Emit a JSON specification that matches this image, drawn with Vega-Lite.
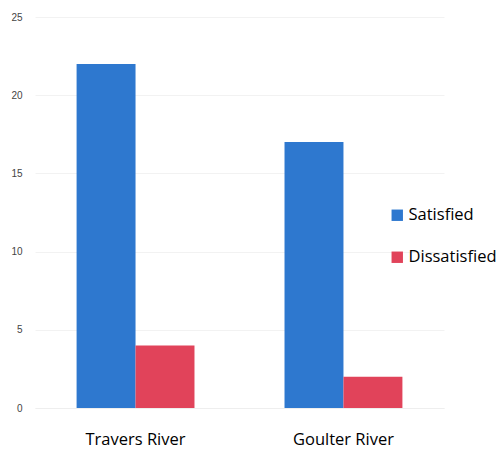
{
  "$schema": "https://vega.github.io/schema/vega-lite/v6.json",
  "autosize": {"type": "none"},
  "padding": {"left": 35, "top": 17, "right": 58, "bottom": 41},
  "width": 409,
  "height": 391,
  "background": "white",
  "data": {
    "values": [
      {"river": "Travers River", "response": "Satisfied", "count": 22},
      {"river": "Travers River", "response": "Dissatisfied", "count": 4},
      {"river": "Goulter River", "response": "Satisfied", "count": 17},
      {"river": "Goulter River", "response": "Dissatisfied", "count": 2}
    ]
  },
  "mark": {"type": "bar"},
  "encoding": {
    "x": {
      "field": "river",
      "type": "nominal",
      "sort": ["Travers River", "Goulter River"],
      "scale": {"paddingInner": 0.433, "paddingOuter": 0.2},
      "axis": {
        "title": null,
        "labelAngle": 0,
        "labelFont": "Open Sans",
        "labelFontSize": 16.5,
        "labelFontWeight": 500,
        "labelColor": "#000",
        "labelPadding": 23,
        "ticks": false,
        "domain": true,
        "domainColor": "#eeeeee",
        "grid": false
      }
    },
    "xOffset": {
      "field": "response",
      "type": "nominal",
      "sort": ["Satisfied", "Dissatisfied"],
      "scale": {"paddingInner": 0, "paddingOuter": 0}
    },
    "y": {
      "field": "count",
      "type": "quantitative",
      "scale": {"domain": [0, 25]},
      "axis": {
        "title": null,
        "values": [0, 5, 10, 15, 20, 25],
        "labelFont": "Liberation Sans",
        "labelFontSize": 10,
        "labelColor": "#444",
        "labelPadding": 13,
        "ticks": false,
        "domain": false,
        "grid": true,
        "gridColor": "#f2f2f2"
      }
    },
    "color": {
      "field": "response",
      "type": "nominal",
      "sort": ["Satisfied", "Dissatisfied"],
      "scale": {"domain": ["Satisfied", "Dissatisfied"], "range": ["#2e78cf", "#e1435a"]},
      "legend": {
        "title": null,
        "orient": "none",
        "legendX": 354,
        "legendY": 190,
        "symbolType": "square",
        "symbolSize": 130,
        "symbolStrokeWidth": 0,
        "labelFont": "Open Sans",
        "labelFontSize": 16.5,
        "labelFontWeight": 500,
        "labelColor": "#000",
        "labelOffset": 3,
        "rowPadding": 25
      }
    }
  },
  "config": {"view": {"stroke": null}}
}
